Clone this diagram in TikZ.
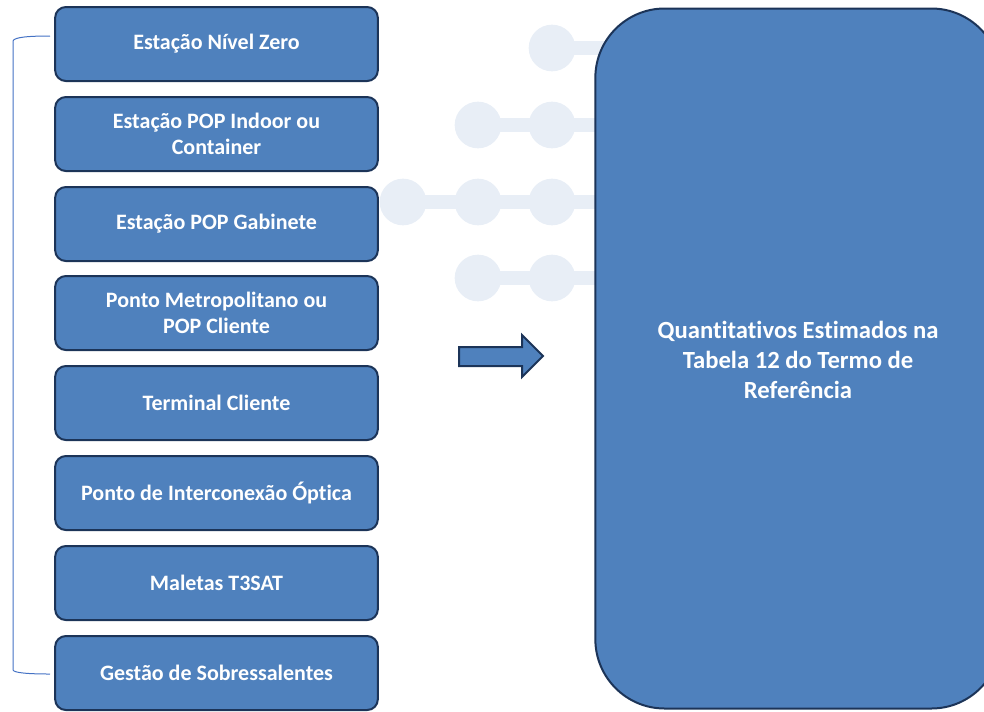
\documentclass[tikz,border=0pt]{standalone}
\usepackage{fontspec}
\setmainfont{Carlito}[Ligatures={NoCommon}]
\usetikzlibrary{positioning}
\usepackage{xcolor}
\definecolor{boxfill}{RGB}{79,129,189}
\definecolor{boxline}{RGB}{28,52,88}
\definecolor{dotfill}{RGB}{232,238,246}
\definecolor{bracketline}{RGB}{68,114,196}
\tikzset{every picture/.style={line width=0.75pt}}
\tikzset{
  itembox/.style={draw=boxline, fill=boxfill, line width=1.5pt, rounded corners=8pt,
    minimum width=242pt, minimum height=55.5pt, inner sep=0pt, align=center,
    text=white, font=\bfseries\fontsize{16.5}{19.5}\selectfont},
  bigbox/.style={draw=boxline, fill=boxfill, line width=1.5pt, rounded corners=52pt,
    minimum width=304pt, minimum height=525pt, inner sep=0pt},
  dot/.style={circle, fill=dotfill, minimum size=35pt, inner sep=0pt}
}

\begin{document}
\begin{tikzpicture}[x=0.75pt,y=0.75pt,yscale=-1,xscale=1]
\useasboundingbox (0,0) rectangle (984,711);

%Background dots
\fill [dotfill] (552,41) rectangle (990,55);
\fill [dotfill] (478,118) rectangle (990,132);
\fill [dotfill] (403,195) rectangle (990,209);
\fill [dotfill] (478,271) rectangle (990,285);
\node [dot] (d11) at (552,48) {};
\node [dot] (d21) at (478,125) {};
\node [dot] (d22) at (552,125) {};
\node [dot] (d31) at (403,202) {};
\node [dot] (d32) at (478,202) {};
\node [dot] (d33) at (552,202) {};
\node [dot] (d41) at (478,278) {};
\node [dot] (d42) at (552,278) {};

% Item boxes
\node [itembox] (nivelzero) at (216.5,44) {Estação Nível Zero};
\node [itembox] (popindoor) at (216.5,134) {Estação POP Indoor ou\\Container};
\node [itembox] (popgab) at (216.5,224) {Estação POP Gabinete};
\node [itembox] (metro) at (216.5,313) {Ponto Metropolitano ou\\POP Cliente};
\node [itembox] (terminal) at (216.5,403) {Terminal Cliente};
\node [itembox] (interc) at (216.5,493) {Ponto de Interconexão Óptica};
\node [itembox] (maletas) at (216.5,583) {Maletas T3SAT};
\node [itembox] (sobress) at (216.5,673) {Gestão de Sobressalentes};

%Bracket
\coordinate (brtop) at (50,36);
\coordinate (brbot) at (50,674);
\draw [bracketline, line width=0.75pt] (brtop) .. controls (30,36) and (14,37) .. (13,41) -- (13,670) .. controls (14,673) and (30,674) .. (brbot);

%Block arrow
\draw [draw=boxline, fill=boxfill, line width=1.5pt] (459,347) -- (522,347) -- (522,335) -- (543,356) -- (522,377) -- (522,366) -- (459,366) -- cycle;

% Result box
\node [bigbox] (quant) at (798,358.5) {};
\node [text=white, align=center, font=\bfseries\fontsize{18.5}{22.5}\selectfont] (quanttxt) at (798,360) {Quantitativos Estimados na\\Tabela 12 do Termo de\\Referência};

\end{tikzpicture}
\end{document}
